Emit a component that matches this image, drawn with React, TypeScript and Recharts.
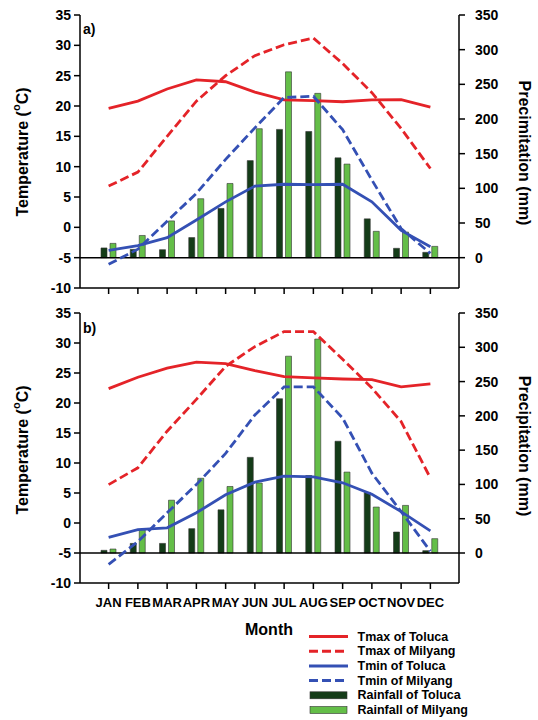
import React from "react";
import {
  ComposedChart,
  Line,
  Bar,
  XAxis,
  YAxis,
  ReferenceLine,
} from "recharts";

const MONTHS = ["JAN", "FEB", "MAR", "APR", "MAY", "JUN", "JUL", "AUG", "SEP", "OCT", "NOV", "DEC"];

// panel a)
const A_TMAX_TOLUCA = [19.6, 20.8, 22.8, 24.3, 24.0, 22.3, 21.0, 20.9, 20.7, 21.0, 21.05, 19.8];
const A_TMAX_MILYANG = [6.8, 9.1, 15.0, 20.8, 25.0, 28.3, 30.1, 31.2, 27.0, 22.2, 16.3, 9.7];
const A_TMIN_TOLUCA = [-3.8, -3.0, -1.7, 1.2, 4.2, 6.8, 7.1, 7.05, 7.1, 4.2, -0.5, -3.2];
const A_TMIN_MILYANG = [-6.1, -3.6, 1.0, 5.6, 11.2, 16.4, 21.4, 21.6, 16.1, 7.8, -0.2, -4.3];
const A_RAIN_TOLUCA = [14, 12, 11.5, 29, 71, 140, 185, 182, 144, 56, 13.5, 7.7];
const A_RAIN_MILYANG = [20.6, 32, 53, 85, 107, 186, 268, 237, 135, 38, 37, 16.3];

// panel b)
const B_TMAX_TOLUCA = [22.4, 24.3, 25.8, 26.8, 26.55, 25.4, 24.4, 24.2, 24.0, 23.9, 22.7, 23.2];
const B_TMAX_MILYANG = [6.4, 9.2, 15.3, 20.6, 26.1, 29.4, 31.9, 31.9, 27.3, 22.5, 16.9, 7.5];
const B_TMIN_TOLUCA = [-2.4, -1.1, -0.8, 1.7, 4.7, 6.8, 7.8, 7.7, 6.7, 4.8, 1.9, -1.3];
const B_TMIN_MILYANG = [-6.9, -3.1, 1.7, 6.4, 11.6, 18.0, 22.7, 22.7, 17.5, 8.3, 1.9, -4.7];
const B_RAIN_TOLUCA = [3.9, 14, 14, 35.5, 63, 139.5, 225, 113, 163, 88.4, 30.6, 3.4];
const B_RAIN_MILYANG = [5.8, 34, 77, 109, 97, 102, 287, 312, 118, 67, 69.4, 20.9];

const TEMP_TICKS = [-10, -5, 0, 5, 10, 15, 20, 25, 30, 35];
const RAIN_TICKS = [0, 50, 100, 150, 200, 250, 300, 350];

const RED = "#e42328";
const BLUE = "#3450b4";
const DARK = "#143c18";
const LIGHT = "#64be48";
const FONT = "'Liberation Sans', Arial, sans-serif";
const DASH = "9 4";

function buildRows(tmaxT: number[], tmaxM: number[], tminT: number[], tminM: number[], rainT: number[], rainM: number[]) {
  return MONTHS.map((m, i) => ({
    month: m,
    tmaxToluca: tmaxT[i],
    tmaxMilyang: tmaxM[i],
    tminToluca: tminT[i],
    tminMilyang: tminM[i],
    rainToluca: rainT[i],
    rainMilyang: rainM[i],
  }));
}

const DATA_A = buildRows(A_TMAX_TOLUCA, A_TMAX_MILYANG, A_TMIN_TOLUCA, A_TMIN_MILYANG, A_RAIN_TOLUCA, A_RAIN_MILYANG);
const DATA_B = buildRows(B_TMAX_TOLUCA, B_TMAX_MILYANG, B_TMIN_TOLUCA, B_TMIN_MILYANG, B_RAIN_TOLUCA, B_RAIN_MILYANG);

const tickStyle = { fontSize: 14, fontWeight: 700, fill: "#000", fontFamily: FONT };
const axisLine = { stroke: "#000", strokeWidth: 1.5 };

function Panel({ data, plotHeight, showMonths }: { data: any[]; plotHeight: number; showMonths: boolean }) {
  const xHeight = showMonths ? 30 : 12;
  return (
    <ComposedChart
      width={538}
      height={15 + plotHeight + xHeight}
      data={data}
      margin={{ top: 15, right: 0, bottom: 0, left: 0 }}
      barSize={6}
      barGap={3}
    >
      <XAxis
        dataKey="month"
        padding={{ left: 14, right: 14 }}
        height={xHeight}
        axisLine={axisLine}
        tickLine={{ stroke: "#000", strokeWidth: 1.5 }}
        tickSize={6}
        tickMargin={9}
        interval={0}
        tick={showMonths ? { fontSize: 13, fontWeight: 700, fill: "#000", fontFamily: FONT } : () => <g />}
      />
      <XAxis
        xAxisId="top"
        orientation="top"
        dataKey="month"
        height={0}
        axisLine={axisLine}
        tick={false}
        tickLine={false}
      />
      <YAxis
        yAxisId="left"
        domain={[-10, 35]}
        ticks={TEMP_TICKS}
        width={80}
        axisLine={axisLine}
        tickLine={{ stroke: "#000", strokeWidth: 1.5 }}
        tickSize={6}
        tickMargin={3}
        tick={tickStyle}
        interval={0}
      />
      <YAxis
        yAxisId="right"
        orientation="right"
        domain={[-43.75, 350]}
        ticks={RAIN_TICKS}
        width={79}
        axisLine={axisLine}
        tickLine={{ stroke: "#000", strokeWidth: 1.5 }}
        tickSize={6}
        tickMargin={10}
        tick={tickStyle}
        interval={0}
        allowDataOverflow
      />
      <ReferenceLine yAxisId="left" y={-5} stroke="#000" strokeWidth={1.5} />
      <Line yAxisId="left" type="linear" dataKey="tmaxToluca" stroke={RED} strokeWidth={2.8} dot={false} isAnimationActive={false} />
      <Line yAxisId="left" type="linear" dataKey="tmaxMilyang" stroke={RED} strokeWidth={2.8} strokeDasharray={DASH} dot={false} isAnimationActive={false} />
      <Line yAxisId="left" type="linear" dataKey="tminToluca" stroke={BLUE} strokeWidth={2.8} dot={false} isAnimationActive={false} />
      <Line yAxisId="left" type="linear" dataKey="tminMilyang" stroke={BLUE} strokeWidth={2.8} strokeDasharray={DASH} dot={false} isAnimationActive={false} />
      <Bar yAxisId="right" dataKey="rainToluca" fill={DARK} stroke="#333" strokeWidth={0.6} isAnimationActive={false} />
      <Bar yAxisId="right" dataKey="rainMilyang" fill={LIGHT} stroke="#333" strokeWidth={0.6} isAnimationActive={false} />
    </ComposedChart>
  );
}

const LEGEND = [
  { name: "Tmax of Toluca", kind: "line", color: RED, dash: "" },
  { name: "Tmax of Milyang", kind: "line", color: RED, dash: DASH },
  { name: "Tmin of Toluca", kind: "line", color: BLUE, dash: "" },
  { name: "Tmin of Milyang", kind: "line", color: BLUE, dash: DASH },
  { name: "Rainfall of Toluca", kind: "bar", color: DARK, dash: "" },
  { name: "Rainfall of Milyang", kind: "bar", color: LIGHT, dash: "" },
];

function Overlay() {
  const bold = { fontFamily: FONT, fontWeight: 700, fill: "#000" };
  return (
    <svg width={538} height={720} style={{ position: "absolute", left: 0, top: 0, pointerEvents: "none" }}>
      <text x={83} y={34} fontSize={14} {...bold}>a)</text>
      <text x={83} y={333} fontSize={14} {...bold}>b)</text>

      <text transform="rotate(-90 22 152)" x={22} y={152} textAnchor="middle" dominantBaseline="central" fontSize={16} {...bold}>
        Temperature (<tspan fontSize={11} dy={-6}>o</tspan><tspan dy={6}>C)</tspan>
      </text>
      <text transform="rotate(-90 22 450)" x={22} y={450} textAnchor="middle" dominantBaseline="central" fontSize={16} {...bold}>
        Temperature (<tspan fontSize={11} dy={-6}>o</tspan><tspan dy={6}>C)</tspan>
      </text>
      <text transform="rotate(90 524 153)" x={524} y={153} textAnchor="middle" dominantBaseline="central" fontSize={16} {...bold}>
        Precimitation (mm)
      </text>
      <text transform="rotate(90 524 446)" x={524} y={446} textAnchor="middle" dominantBaseline="central" fontSize={16} {...bold}>
        Precipitation (mm)
      </text>

      <text x={269} y={629} textAnchor="middle" dominantBaseline="central" fontSize={16} {...bold}>Month</text>

      {LEGEND.map((item, i) => {
        const cy = 636.5 + i * 14.7;
        return (
          <g key={item.name}>
            {item.kind === "line" ? (
              <line x1={309} x2={348} y1={cy} y2={cy} stroke={item.color} strokeWidth={3} strokeDasharray={item.dash || undefined} />
            ) : (
              <rect x={310} y={cy - 3.5} width={37} height={7} fill={item.color} stroke="#333" strokeWidth={0.6} />
            )}
            <text x={357.5} y={cy} dominantBaseline="central" fontSize={12.5} {...bold}>{item.name}</text>
          </g>
        );
      })}
    </svg>
  );
}

export default function App() {
  return (
    <div style={{ position: "absolute", left: 0, top: 0, width: 538, height: 720, background: "#fff" }}>
      <div style={{ position: "absolute", left: 0, top: 0 }}>
        <Panel data={DATA_A} plotHeight={273} showMonths={false} />
      </div>
      <div style={{ position: "absolute", left: 0, top: 298 }}>
        <Panel data={DATA_B} plotHeight={270} showMonths={true} />
      </div>
      <Overlay />
    </div>
  );
}
